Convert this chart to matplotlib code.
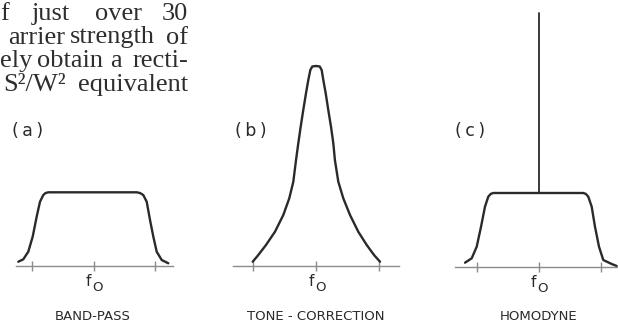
import matplotlib
matplotlib.use("Agg")
import matplotlib.pyplot as plt

# ---------------- data ----------------
# frequency in units of the tick spacing (ticks at f0-d, f0, f0+d); response: band-pass plateau = 1
bandpass_x = [-1.227, -1.145, -1.064, -0.992, -0.927, -0.873, -0.819, -0.783, -0.737,
              0.705, 0.760, 0.812, 0.868, 0.922, 0.976, 1.031, 1.113, 1.220]
bandpass_y = [0.058, 0.091, 0.194, 0.398, 0.669, 0.872, 0.963, 0.990, 1.0,
              1.0, 0.990, 0.963, 0.872, 0.624, 0.398, 0.194, 0.081, 0.037]

tone_x = [-1.005, -0.916, -0.794, -0.651, -0.519, -0.424, -0.360, -0.317, -0.281,
          -0.243, -0.202, -0.159, -0.122, -0.090, -0.059, 0.0,
          0.059, 0.090, 0.116, 0.154, 0.195, 0.238, 0.275, 0.300, 0.354,
          0.433, 0.540, 0.671, 0.805, 0.921, 1.016]
tone_y = [0.058, 0.149, 0.285, 0.465, 0.692, 0.919, 1.144, 1.438, 1.665,
          1.890, 2.117, 2.343, 2.524, 2.659, 2.707, 2.714,
          2.707, 2.659, 2.524, 2.343, 2.117, 1.890, 1.665, 1.438, 1.144,
          0.919, 0.692, 0.465, 0.285, 0.149, 0.058]

homodyne_x = [-1.185, -1.077, -0.997, -0.927, -0.863, -0.810, -0.770, -0.729,
              0.723, 0.763, 0.803, 0.858, 0.911, 0.976, 1.045, 1.181, 1.261]
homodyne_y = [0.052, 0.112, 0.269, 0.541, 0.814, 0.950, 0.988, 1.0,
              1.0, 0.988, 0.950, 0.814, 0.541, 0.269, 0.088, 0.034, 0.007]
carrier_x = [0.0, 0.0]
carrier_y = [1.0, 3.45]

tick_positions = [-1, 0, 1]
panel_labels = ["(\u2009a\u2009)", "(\u2009b\u2009)", "(\u2009c\u2009)"]
panel_titles = ["BAND-PASS", "TONE - CORRECTION", "HOMODYNE"]
centre_label = ("f", "O")

text_lines = [["f", "just", "over", "30"],
              ["arrier", "strength", "of"],
              ["ely", "obtain", "a", "recti-"],
              ["S\u00b2/W\u00b2", "equivalent"]]

# ---------------- layout ----------------
W, H = 618, 323
fig = plt.figure(figsize=(W / 100, H / 100), dpi=100)
fig.patch.set_facecolor("white")

ink = "#2a2a2a"
axis_col = "#8c8c8c"

# panel geometry in pixels: left, right, centre, px per unit x, baseline, px per unit y
panels = [
    dict(left=16, right=173, centre=93.5, ux=61.3, base=266.0, uy=73.7),
    dict(left=233, right=399, centre=316.0, ux=63.0, base=266.0, uy=73.7),
    dict(left=455, right=617, centre=538.5, ux=62.0, base=266.5, uy=73.5),
]
label_pos = [(27.5, 131), (251, 131), (470, 131)]
title_pos = [93, 316, 539]

curves = [[(bandpass_x, bandpass_y)],
          [(tone_x, tone_y)],
          [(homodyne_x, homodyne_y), (carrier_x, carrier_y)]]

for i, p in enumerate(panels):
    ax = fig.add_axes([p["left"] / W, (H - p["base"]) / H,
                       (p["right"] - p["left"]) / W, p["base"] / H])
    ax.set_xlim((p["left"] - p["centre"]) / p["ux"], (p["right"] - p["centre"]) / p["ux"])
    ax.set_ylim(0, p["base"] / p["uy"])
    ax.patch.set_alpha(0)
    for s in ["top", "left", "right"]:
        ax.spines[s].set_visible(False)
    ax.spines["bottom"].set_color(axis_col)
    ax.spines["bottom"].set_linewidth(1.0)
    ax.set_yticks([])
    ax.set_xticks(tick_positions)
    ax.set_xticklabels([])
    ax.tick_params(axis="x", direction="inout", length=7, width=1.0, color=axis_col)
    for k, (cx, cy) in enumerate(curves[i]):
        ax.plot(cx, cy, color=ink, lw=1.7 if k == 0 else 1.3,
                solid_joinstyle="round", solid_capstyle="round", clip_on=False)
    # f0 label under the centre tick
    ax.annotate(centre_label[0], xy=(0, 0), xytext=(-5, -16), textcoords="offset pixels",
                ha="center", va="center", fontsize=11, color=ink, family="DejaVu Sans")
    ax.annotate(centre_label[1], xy=(0, 0), xytext=(4, -21.5), textcoords="offset pixels",
                ha="center", va="center", fontsize=9.5, color=ink, family="DejaVu Sans")

for i in range(3):
    fig.text(label_pos[i][0] / W, 1 - label_pos[i][1] / H, panel_labels[i],
             ha="center", va="center", fontsize=12.5, color=ink, family="DejaVu Sans")
    fig.text(title_pos[i] / W, 1 - 316 / H, panel_titles[i],
             ha="center", va="center", fontsize=9.5, color=ink, family="DejaVu Sans")

# top text block (justified column fragment)
baselines = [20, 43.5, 67, 91.5]
word_pos = [[("left", 0), ("left", 32), ("left", 95), ("right", 188)],
            [("right", 65), ("left", 70), ("right", 188)],
            [("left", 0), ("left", 37), ("left", 110), ("right", 188)],
            [("left", 3), ("right", 188)]]
for words, pos, yb in zip(text_lines, word_pos, baselines):
    for w, (ha, x) in zip(words, pos):
        fig.text(x / W, 1 - yb / H, w, ha=ha, va="baseline", fontsize=19,
                 color="#2e2e2e", family="Liberation Serif")

fig.savefig("out.png", dpi=100, facecolor="white")
